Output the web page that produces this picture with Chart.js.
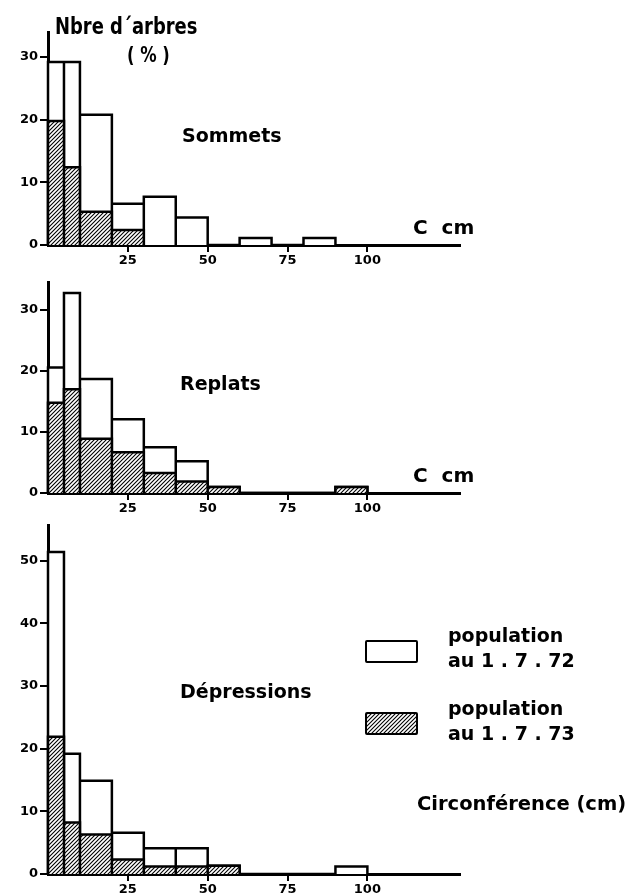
<!DOCTYPE html>
<html>
<head>
<meta charset="utf-8">
<script src="https://cdn.jsdelivr.net/npm/chart.js@4.4.1/dist/chart.umd.min.js"></script>
<style>
  body { margin: 0; background: #fff; }
  #page { position: relative; width: 628px; height: 896px; overflow: hidden; background: #fff;
          font-family: "DejaVu Sans", sans-serif; font-weight: bold; color: #000; }
  #page canvas { position: absolute; left: 0; }
  .lbl { position: absolute; white-space: nowrap; line-height: 1; }
  .narrow { transform-origin: 0 0; transform: scaleX(0.78); }
  .swatch { position: absolute; left: 365px; width: 49px; height: 19px; border: 2.5px solid #000; border-radius: 2px; background: #fff; }
</style>
</head>
<body>
<div id="page">
  <canvas id="sommets" width="628" height="270" style="top:0px"></canvas>
  <canvas id="replats" width="628" height="250" style="top:270px"></canvas>
  <canvas id="depressions" width="628" height="386" style="top:510px"></canvas>

  <div class="lbl narrow" style="left:55px;top:15px;font-size:23px;">Nbre d´arbres</div>
  <div class="lbl narrow" style="left:127px;top:45px;font-size:21px;">( % )</div>

  <div class="lbl" style="left:182px;top:126px;font-size:19px;">Sommets</div>
  <div class="lbl" style="left:413px;top:217px;font-size:20px;">C&nbsp;&nbsp;cm</div>

  <div class="lbl" style="left:180px;top:374px;font-size:19px;">Replats</div>
  <div class="lbl" style="left:413px;top:465px;font-size:20px;">C&nbsp;&nbsp;cm</div>

  <div class="lbl" style="left:180px;top:682px;font-size:19px;">Dépressions</div>
  <div class="lbl" style="left:417px;top:794px;font-size:19.5px;">Circonférence (cm)</div>

  <div class="swatch" style="top:640px;"></div>
  <div class="swatch" id="hatchSwatch" style="top:712px;"></div>
  <div class="lbl" style="left:448px;top:626px;font-size:19px;">population</div>
  <div class="lbl" style="left:448px;top:651px;font-size:19px;">au 1 . 7 . 72</div>
  <div class="lbl" style="left:448px;top:699px;font-size:19px;">population</div>
  <div class="lbl" style="left:448px;top:724px;font-size:19px;">au 1 . 7 . 73</div>
</div>

<script>
// Circumference classes (cm): bin edges, one value per bin
const binEdges = [0, 5, 10, 20, 30, 40, 50, 60, 70, 80, 90, 100];

// % of trees per class, population at 1.7.72 (open) and 1.7.73 (hatched)
const sommetsOpen     = [29.2, 29.2, 20.8, 6.6, 7.7, 4.4, 0, 1.1, 0, 1.1, 0];
const sommetsHatched  = [19.8, 12.4, 5.3, 2.4, 0, 0, 0, 0, 0, 0, 0];
const replatsOpen     = [20.6, 32.8, 18.7, 12.1, 7.5, 5.2, 1.0, 0, 0, 0, 1.0];
const replatsHatched  = [14.8, 17.0, 8.9, 6.7, 3.3, 1.9, 1.0, 0, 0, 0, 1.0];
const depressOpen     = [51.4, 19.2, 14.9, 6.6, 4.1, 4.1, 1.3, 0, 0, 0, 1.2];
const depressHatched  = [21.9, 8.2, 6.3, 2.3, 1.2, 1.2, 1.3, 0, 0, 0, 0];

// tick labels
const xTicks = [25, 50, 75, 100];
const yTicksSmall = [0, 10, 20, 30];
const yTicksLarge = [0, 10, 20, 30, 40, 50];

// diagonal hatching tile, shared by the bars and the legend swatch
function makeHatchTile() {
    const s = 4;
    const c = document.createElement('canvas');
    c.width = s; c.height = s;
    const g = c.getContext('2d');
    g.fillStyle = '#fff';
    g.fillRect(0, 0, s, s);
    g.strokeStyle = '#000';
    g.lineWidth = 1.1;
    g.beginPath();
    g.moveTo(-1, s + 1); g.lineTo(s + 1, -1);
    g.moveTo(-1, 1); g.lineTo(1, -1);
    g.moveTo(s - 1, s + 1); g.lineTo(s + 1, s - 1);
    g.stroke();
    return c;
}
const hatchTile = makeHatchTile();
document.getElementById('hatchSwatch').style.background = 'url(' + hatchTile.toDataURL() + ') repeat';

/**
 * Turns histogram values into the outline of adjacent rectangles
 * (goes down to the baseline at every bin edge so each bin is closed)
 */
function histogramPath(values) {
    const pts = [];
    values.forEach((v, i) => {
        if (!v) return;
        const x0 = binEdges[i], x1 = binEdges[i + 1];
        pts.push({ x: x0, y: 0 }, { x: x0, y: v }, { x: x1, y: v }, { x: x1, y: 0 });
    });
    return pts;
}

function renderPanel(canvasId, openValues, hatchedValues, opts) {
    const ctx = document.getElementById(canvasId).getContext('2d');
    const hatch = ctx.createPattern(hatchTile, 'repeat');
    const tickFont = { family: 'DejaVu Sans', size: 13, weight: 'bold' };

    new Chart(ctx, {
        type: 'line',
        data: {
            datasets: [{
                label: 'population au 1.7.73',
                data: histogramPath(hatchedValues),
                backgroundColor: hatch,
                borderColor: '#000',
                borderWidth: 2.5,
                fill: 'origin',
                order: 0
            }, {
                label: 'population au 1.7.72',
                data: histogramPath(openValues),
                backgroundColor: '#fff',
                borderColor: '#000',
                borderWidth: 2.5,
                fill: 'origin',
                order: 1
            }]
        },
        options: {
            responsive: false,
            animation: false,
            events: [],
            layout: { padding: { left: 0, top: opts.padTop, right: 168, bottom: 0 } },
            elements: {
                point: { radius: 0 },
                line: { tension: 0, borderJoinStyle: 'miter', borderCapStyle: 'butt' }
            },
            datasets: { line: { clip: false } },
            plugins: { legend: { display: false }, tooltip: { enabled: false } },
            scales: {
                x: {
                    type: 'linear',
                    min: 0,
                    max: 129,
                    afterBuildTicks: axis => { axis.ticks = xTicks.map(v => ({ value: v })); },
                    afterFit: scale => { scale.height = opts.xAxisHeight; },
                    grid: { drawOnChartArea: false, drawTicks: true, tickLength: 7, lineWidth: 2, color: '#000' },
                    border: { display: true, color: '#000', width: 3 },
                    ticks: { color: '#000', font: tickFont, padding: 1, maxRotation: 0 }
                },
                y: {
                    min: 0,
                    max: opts.yMax,
                    afterBuildTicks: axis => { axis.ticks = opts.yTicks.map(v => ({ value: v })); },
                    afterFit: scale => { scale.width = 48; },
                    grid: { drawOnChartArea: false, drawTicks: true, tickLength: 8, lineWidth: 2, color: '#000' },
                    border: { display: true, color: '#000', width: 3 },
                    ticks: { color: '#000', font: tickFont, padding: 2 }
                }
            }
        }
    });
}

renderPanel('sommets', sommetsOpen, sommetsHatched, { padTop: 32, xAxisHeight: 25, yMax: 34, yTicks: yTicksSmall });
renderPanel('replats', replatsOpen, replatsHatched, { padTop: 12, xAxisHeight: 27, yMax: 34.6, yTicks: yTicksSmall });
renderPanel('depressions', depressOpen, depressHatched, { padTop: 15, xAxisHeight: 22, yMax: 55.7, yTicks: yTicksLarge });
</script>
</body>
</html>
